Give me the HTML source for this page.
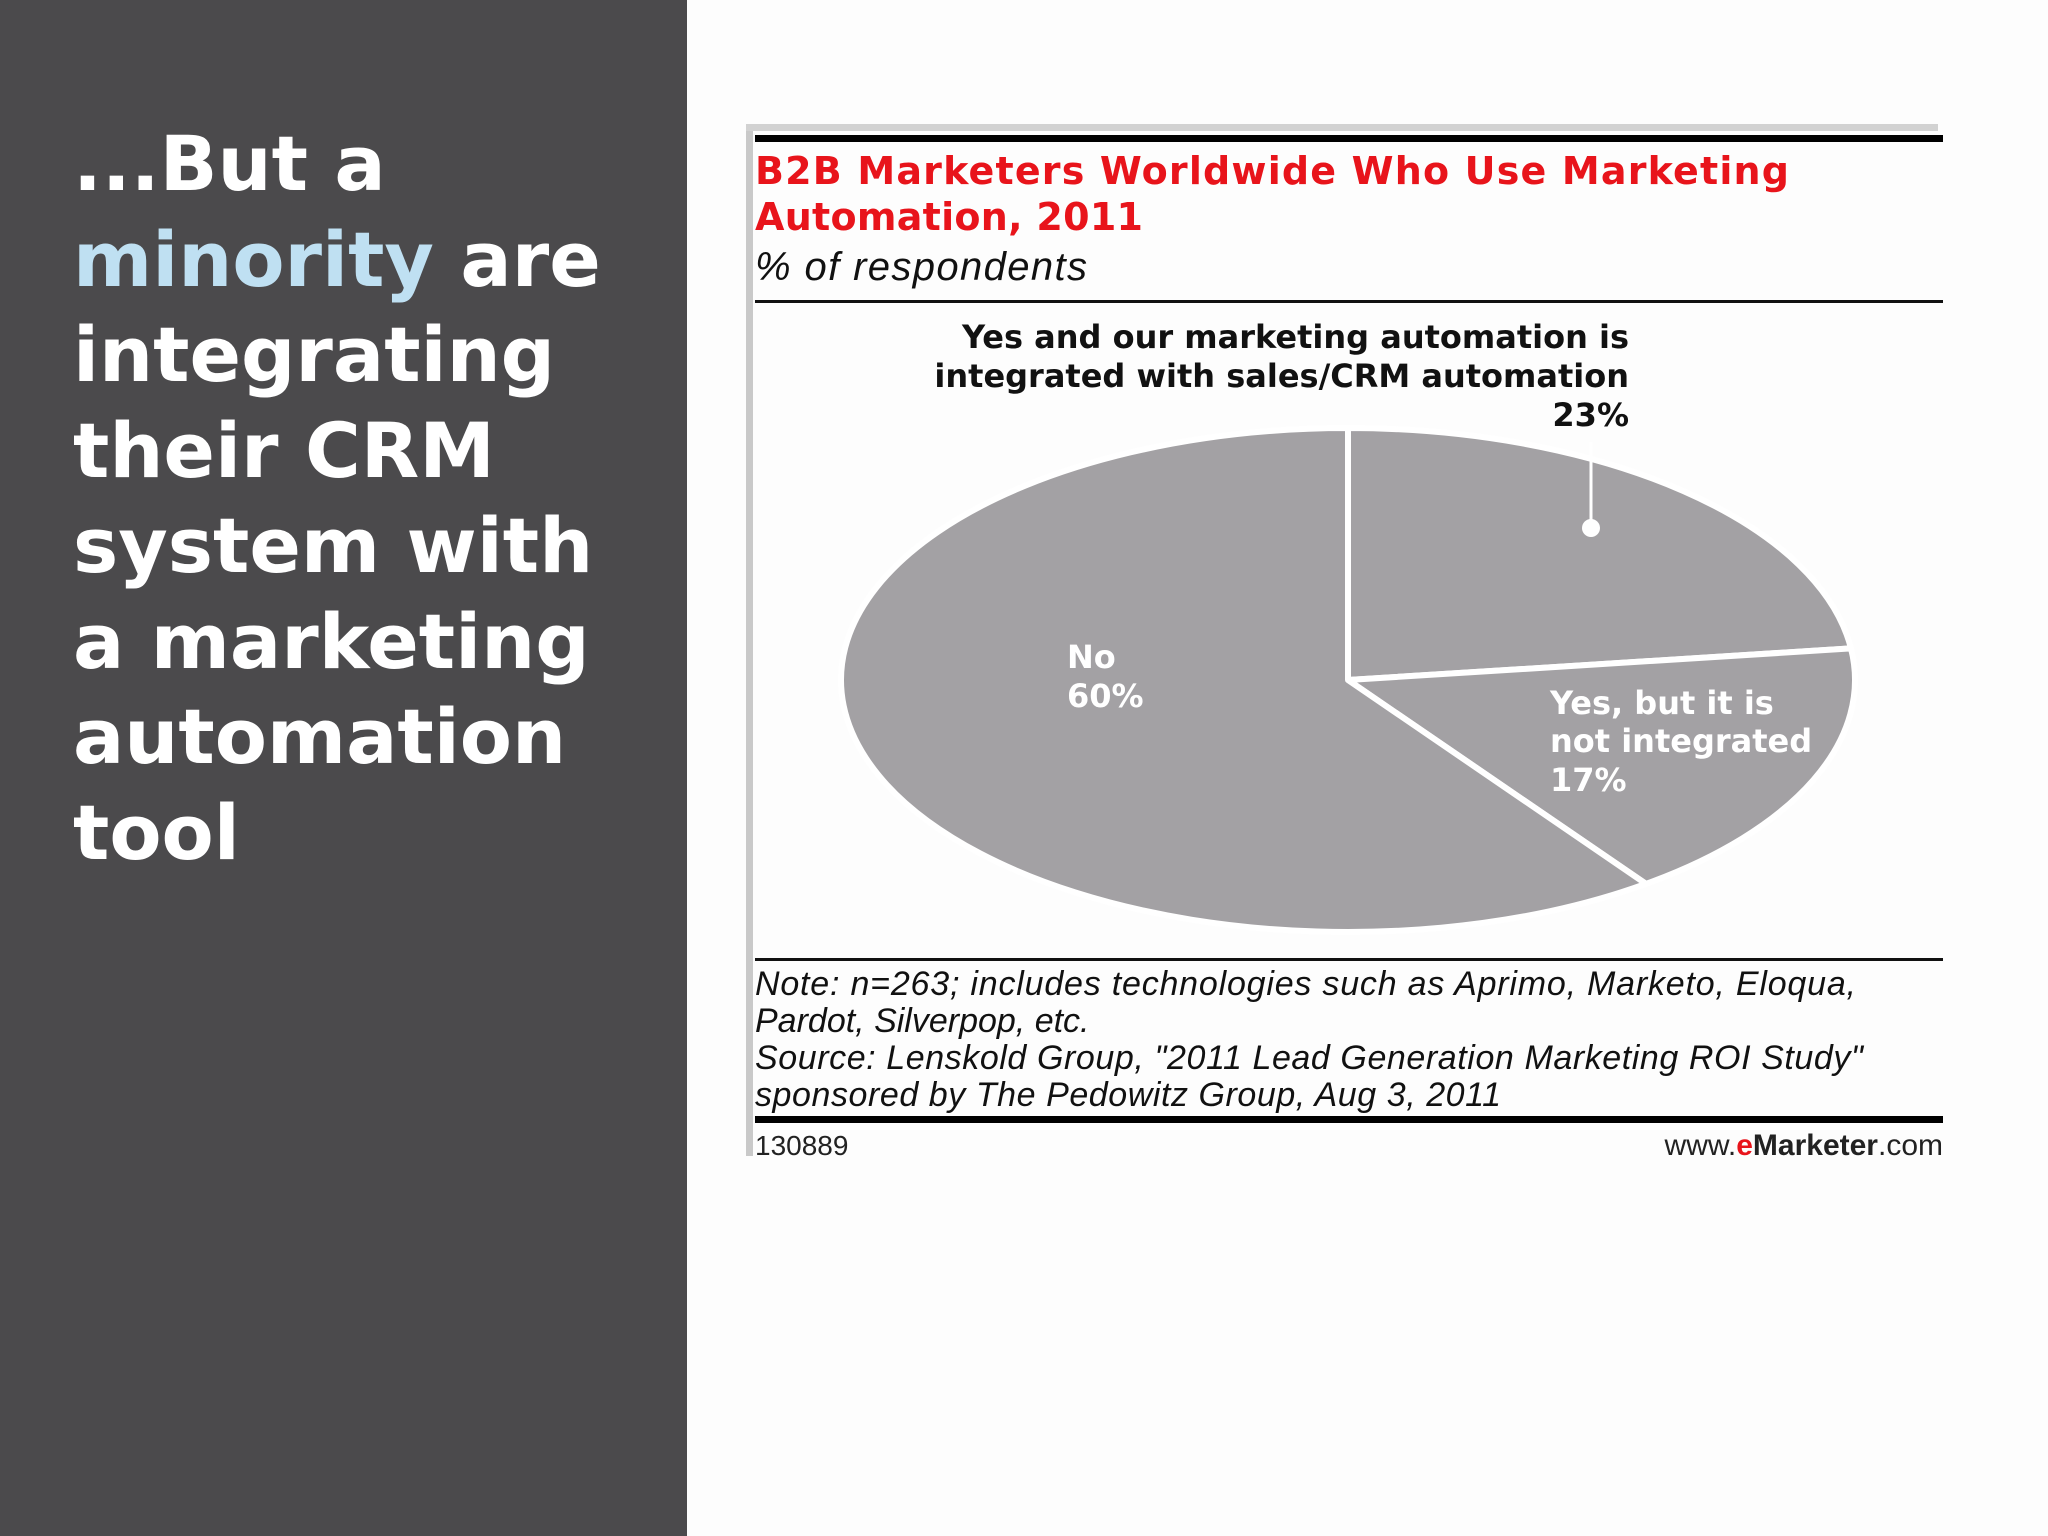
<!DOCTYPE html>
<html><head><meta charset="utf-8">
<style>
html,body{margin:0;padding:0;width:2048px;height:1536px;overflow:hidden;background:#fdfdfd;}
#left{position:absolute;left:0;top:0;width:687px;height:1536px;background:#4b4a4c;}
#headline{position:absolute;left:73px;top:116px;margin:0;font-family:"DejaVu Sans",sans-serif;font-weight:bold;font-size:76px;line-height:95.5px;color:#fff;white-space:nowrap;}
#headline .hl{color:#bfe0f2;}
svg{position:absolute;left:0;top:0;}
</style></head>
<body>
<div id="left">
<h1 id="headline">...But a<br><span class="hl">minority</span> are<br>integrating<br>their CRM<br>system with<br>a marketing<br>automation<br>tool</h1>
</div>
<svg id="chart" width="2048" height="1536">
<rect x="746" y="124" width="7" height="1032" fill="#c9c9c9"/>
<rect x="746" y="124" width="1192" height="7" fill="#d2d2d2"/>
<rect x="755" y="135" width="1188" height="7" fill="#000"/>
<text x="755" y="184" font-family="DejaVu Sans,sans-serif" font-weight="bold" font-size="38" fill="#e8141b" textLength="1034">B2B Marketers Worldwide Who Use Marketing</text>
<text x="755" y="230" font-family="DejaVu Sans,sans-serif" font-weight="bold" font-size="38" fill="#e8141b" textLength="388">Automation, 2011</text>
<text x="755" y="280" font-family="Liberation Sans,sans-serif" font-style="italic" font-size="40" fill="#111" textLength="332">% of respondents</text>
<rect x="755" y="300" width="1188" height="3" fill="#111"/>
<g id="pie"></g>
<g font-family="DejaVu Sans,sans-serif" font-weight="bold" font-size="32" fill="#111" text-anchor="end">
<text x="1629" y="348">Yes and our marketing automation is</text>
<text x="1629" y="387">integrated with sales/CRM automation</text>
<text id="lblInt" x="1629" y="426"></text>
</g>
<line x1="1591" y1="442" x2="1591" y2="526" stroke="#fff" stroke-width="3"/>
<circle cx="1591" cy="528" r="9" fill="#fff"/>
<g font-family="DejaVu Sans,sans-serif" font-weight="bold" font-size="32" fill="#fff">
<text x="1067" y="668">No</text>
<text id="lblNo" x="1067" y="707"></text>
<text x="1550" y="714">Yes, but it is</text>
<text x="1550" y="752">not integrated</text>
<text id="lblNot" x="1550" y="791"></text>
</g>
<rect x="755" y="958" width="1188" height="3" fill="#111"/>
<g font-family="Liberation Sans,sans-serif" font-style="italic" font-size="34" fill="#111">
<text x="755" y="995" textLength="1101">Note: n=263; includes technologies such as Aprimo, Marketo, Eloqua,</text>
<text x="755" y="1032">Pardot, Silverpop, etc.</text>
<text x="755" y="1069" textLength="1108">Source: Lenskold Group, "2011 Lead Generation Marketing ROI Study"</text>
<text x="755" y="1106" textLength="746">sponsored by The Pedowitz Group, Aug 3, 2011</text>
</g>
<rect x="755" y="1116" width="1188" height="7" fill="#000"/>
<text x="755" y="1155" font-family="Liberation Sans,sans-serif" font-size="28" fill="#222">130889</text>
<text x="1943" y="1155" text-anchor="end" font-family="Liberation Sans,sans-serif" font-size="30" fill="#222">www.<tspan fill="#e8141b" font-weight="bold">e</tspan><tspan font-weight="bold">Marketer</tspan>.com</text>
</svg>
<script>
const categories = ["Yes, integrated", "Yes, not integrated", "No"];
const values = [23, 17, 60];
const valueLabels = ["23%", "17%", "60%"];
const cx = 1348, cy = 680, rx = 507, ry = 252;
const pie = document.getElementById('pie');
const ns = 'http://www.w3.org/2000/svg';
const total = values.reduce((a,b)=>a+b,0);
let a0 = -Math.PI/2;
const pt = a => [cx + rx*Math.cos(a), cy + ry*Math.sin(a)];
values.forEach((v,i)=>{
  const a1 = a0 + v/total*2*Math.PI;
  const [x0,y0] = pt(a0), [x1,y1] = pt(a1);
  const large = (a1-a0) > Math.PI ? 1 : 0;
  const p = document.createElementNS(ns,'path');
  p.setAttribute('d',`M${cx},${cy} L${x0},${y0} A${rx},${ry} 0 ${large} 1 ${x1},${y1} Z`);
  p.setAttribute('fill','#a3a1a4');
  p.setAttribute('stroke','#fff');
  p.setAttribute('stroke-width','6');
  p.setAttribute('stroke-linejoin','round');
  
  
  pie.appendChild(p);
  a0 = a1;
});
document.getElementById('lblInt').textContent = valueLabels[0];
document.getElementById('lblNot').textContent = valueLabels[1];
document.getElementById('lblNo').textContent = valueLabels[2];
</script>
</body></html>
